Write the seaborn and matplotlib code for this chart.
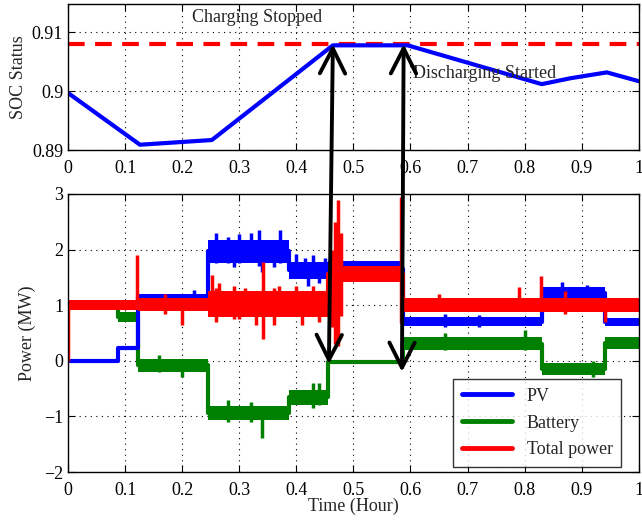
import numpy as np
import pandas as pd
import seaborn as sns
import matplotlib
matplotlib.use('Agg')
import matplotlib.pyplot as plt
from matplotlib.lines import Line2D
from matplotlib.patches import ConnectionPatch

# SOC curve (top panel)
soc_time = [0.0, 0.126, 0.252, 0.464, 0.595, 0.83, 0.88, 0.944, 1.0]
soc_value = [0.8997, 0.8909, 0.8917, 0.9078, 0.9078, 0.9012, 0.9022, 0.9032, 0.9017]
soc_limit = 0.908

# power bands (bottom panel): segment edges, lower / upper edge of the noisy band
pv_edges = [0, 0.088, 0.122, 0.246, 0.388, 0.456, 0.587, 0.83, 0.94, 1.0]
pv_low = [-0.03, 0.19, 1.08, 1.76, 1.47, 1.50, 0.63, 1.12, 0.62]
pv_high = [0.03, 0.26, 1.20, 2.18, 1.78, 1.80, 0.78, 1.32, 0.77]

bat_edges = [0, 0.088, 0.122, 0.246, 0.388, 0.456, 0.587, 0.83, 0.94, 1.0]
bat_low = [0.93, 0.70, -0.20, -1.07, -0.80, -0.06, 0.20, -0.26, 0.22]
bat_high = [1.07, 0.87, 0.04, -0.82, -0.52, 0.00, 0.42, -0.04, 0.42]

tot_edges = [0, 0.122, 0.246, 0.456, 0.587, 1.0]
tot_low = [0.92, 0.90, 0.78, 1.42, 0.88]
tot_high = [1.09, 1.13, 1.25, 1.70, 1.13]

# spikes: time, low, high
pv_spikes = [(0.26, 1.75, 2.30), (0.28, 1.75, 2.22), (0.29, 1.68, 2.1), (0.30, 1.75, 2.28),
             (0.32, 1.78, 2.30), (0.335, 1.70, 2.35), (0.34, 1.6, 2.1), (0.36, 1.68, 2.1),
             (0.372, 1.75, 2.35), (0.40, 1.5, 1.92), (0.415, 1.5, 1.85), (0.42, 1.35, 1.7),
             (0.43, 1.5, 1.9), (0.44, 1.4, 1.75), (0.45, 1.5, 1.85), (0.22, 1.1, 1.28),
             (0.66, 0.6, 0.85), (0.72, 0.6, 0.82), (0.865, 1.1, 1.42), (0.91, 1.1, 1.37)]
bat_spikes = [(0.20, -0.30, 0.0), (0.16, -0.2, 0.1), (0.28, -1.1, -0.7), (0.34, -1.38, -0.85),
              (0.32, -1.1, -0.75), (0.43, -0.85, -0.4), (0.44, -0.8, -0.4), (0.66, 0.2, 0.5),
              (0.80, 0.2, 0.55), (0.92, -0.3, 0.0)]
tot_spikes = [(0.0, 0.0, 1.0), (0.121, 0.95, 1.90), (0.20, 0.65, 1.1), (0.17, 0.85, 1.2),
              (0.252, 0.85, 1.54), (0.26, 0.7, 1.3), (0.265, 0.9, 1.4), (0.29, 0.75, 1.35),
              (0.30, 0.75, 1.2), (0.31, 0.8, 1.3), (0.33, 0.65, 1.2), (0.342, 0.40, 1.78),
              (0.36, 0.65, 1.3), (0.37, 0.8, 1.35), (0.40, 0.8, 1.35), (0.41, 0.65, 1.2),
              (0.43, 0.8, 1.35), (0.44, 0.7, 1.2), (0.463, 0.60, 2.00), (0.468, 0.30, 2.50),
              (0.473, 0.26, 2.89), (0.478, 0.80, 2.30), (0.584, 0.68, 2.94), (0.65, 0.9, 1.2),
              (0.79, 0.95, 1.33), (0.828, 0.95, 1.52), (0.87, 0.85, 1.25), (0.94, 0.70, 1.10)]

arrow_times = [(0.464, 0.457), (0.588, 0.585)]
arrow_bottom = [-0.06, -0.20]

sns.set_style('ticks')
plt.rcParams['font.family'] = ['Liberation Serif', 'DejaVu Serif']
plt.rcParams['mathtext.default'] = 'regular'
plt.rcParams['font.size'] = 13

fig = plt.figure(figsize=(6.42, 5.2), dpi=100)
ax1 = fig.add_axes([0.106, 0.7115, 0.889, 0.2805])
ax2 = fig.add_axes([0.106, 0.0923, 0.889, 0.5347])


def style_axes(ax):
    ax.set_axisbelow(True)
    ax.grid(True, color='black', linestyle=(0, (1, 4)), linewidth=0.8)
    ax.tick_params(direction='in', top=True, right=True, length=5, width=0.8,
                   labelsize=13, colors='black')
    ax.tick_params(axis='x', pad=7)
    for sp in ax.spines.values():
        sp.set_visible(True)
        sp.set_color('black')
        sp.set_linewidth(1.0)
        sp.set_zorder(5)


# top panel
soc = pd.DataFrame({'t': soc_time, 'soc': soc_value})
sns.lineplot(data=soc, x='t', y='soc', ax=ax1, color=(0, 0, 1), lw=3, zorder=3)
ax1.axhline(soc_limit, color='red', lw=3, dashes=(4, 2.5), zorder=2)
ax1.set_xlim(0, 1)
ax1.set_ylim(0.89, 0.9148)
ax1.set_xticks(np.arange(0, 1.01, 0.1))
ax1.set_xticklabels(['0', '0.1', '0.2', '0.3', '0.4', '0.5', '0.6', '0.7', '0.8', '0.9', '1'])
ax1.set_yticks([0.89, 0.90, 0.91])
ax1.set_yticklabels(['0.89', '0.9', '0.91'])
ax1.set_xlabel('')
ax1.set_ylabel('SOC Status', fontsize=13)
ax1.yaxis.set_label_coords(-0.072, 0.5)
ax1.text(0.217, 0.9125, 'Charging Stopped', fontsize=13, va='center', ha='left')
ax1.text(0.604, 0.9030, 'Discharging Started', fontsize=13, va='center', ha='left')
style_axes(ax1)


# bottom panel
def draw_band(ax, edges, low, high, color, spikes):
    lo = low + [low[-1]]
    hi = high + [high[-1]]
    ax.fill_between(edges, lo, hi, step='post', color=color, lw=0, zorder=2)
    mid = [(a + b) / 2 for a, b in zip(lo, hi)]
    df = pd.DataFrame({'t': edges, 'p': mid})
    sns.lineplot(data=df, x='t', y='p', ax=ax, color=color, lw=3,
                 drawstyle='steps-post', estimator=None, zorder=2)
    ax.vlines([s[0] for s in spikes], [s[1] for s in spikes], [s[2] for s in spikes],
              color=color, lw=2.5, zorder=2)


draw_band(ax2, bat_edges, bat_low, bat_high, (0, 0.5, 0), bat_spikes)
draw_band(ax2, pv_edges, pv_low, pv_high, (0, 0, 1), pv_spikes)
draw_band(ax2, tot_edges, tot_low, tot_high, (1, 0, 0), tot_spikes)

ax2.set_xlim(0, 1)
ax2.set_ylim(-2, 3)
ax2.set_xticks(np.arange(0, 1.01, 0.1))
ax2.set_xticklabels(['0', '0.1', '0.2', '0.3', '0.4', '0.5', '0.6', '0.7', '0.8', '0.9', '1'])
ax2.set_yticks([-2, -1, 0, 1, 2, 3])
ax2.set_xlabel('Time (Hour)', fontsize=13)
ax2.set_ylabel('Power (MW)', fontsize=13)
ax2.yaxis.set_label_coords(-0.056, 0.5)
ax2.xaxis.set_label_coords(0.5, -0.092)
style_axes(ax2)

handles = [Line2D([], [], color=(0, 0, 1), lw=3.5),
           Line2D([], [], color=(0, 0.5, 0), lw=3.5),
           Line2D([], [], color=(1, 0, 0), lw=3.5)]
leg = ax2.legend(handles, ['PV', 'Battery', 'Total power'], loc='lower right',
                 bbox_to_anchor=(0.978, 0.0), fontsize=13, frameon=True, fancybox=False,
                 handlelength=2.8, borderaxespad=0.3, labelspacing=0.55,
                 borderpad=0.45)
leg.get_frame().set_edgecolor('black')
leg.get_frame().set_linewidth(1.0)
leg.set_zorder(6)

# arrows across both panels
for (t_top, t_bot), yb in zip(arrow_times, arrow_bottom):
    con = ConnectionPatch(xyA=(t_bot, yb), coordsA='data', axesA=ax2,
                          xyB=(t_top, soc_limit), coordsB='data', axesB=ax1,
                          arrowstyle='<->,head_length=0.75,head_width=0.38',
                          mutation_scale=24, lw=2.8, color='black',
                          shrinkA=0, shrinkB=0, zorder=10)
    fig.add_artist(con)

fig.savefig('out.png', dpi=100)
